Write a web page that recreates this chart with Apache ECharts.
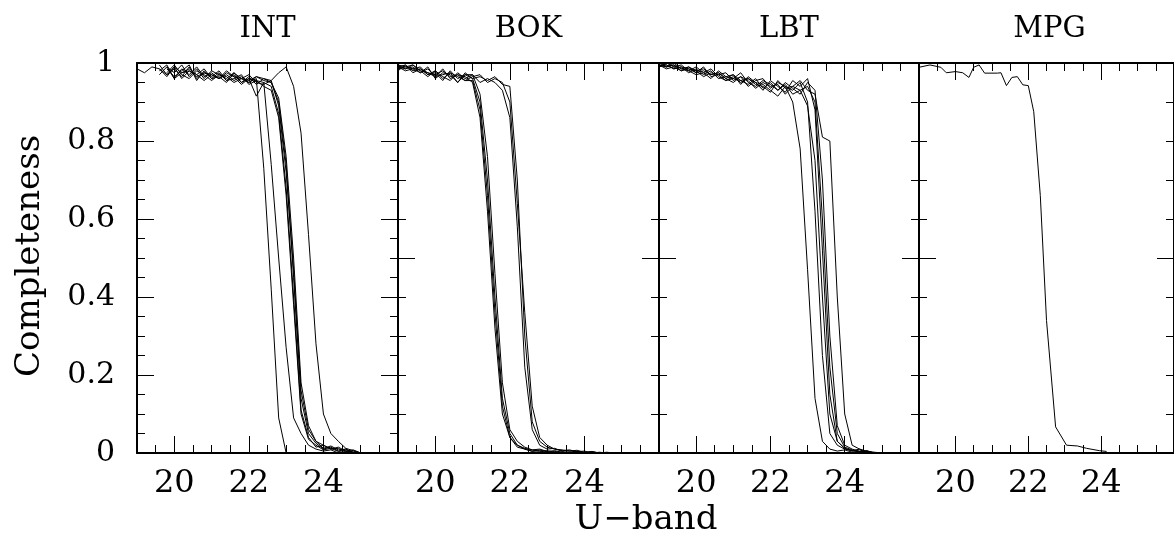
<!DOCTYPE html>
<html>
<head>
<meta charset="utf-8">
<script src="https://cdn.jsdelivr.net/npm/echarts@6/dist/echarts.min.js"></script>
<style>
html, body { margin: 0; background: #fff; }
#chart { width: 1174px; height: 540px; }
</style>
</head>
<body>
<div id="chart"></div>
<script>
// panel names and the U magnitude grid the INT/BOK/LBT runs were sampled on
var panels = ['INT', 'BOK', 'LBT', 'MPG'];
var mags = [19.0, 19.2, 19.4, 19.6, 19.8, 20.0, 20.2, 20.4, 20.6, 20.8, 21.0, 21.2, 21.4, 21.6, 21.8, 22.0,
	22.2, 22.4, 22.6, 22.8, 23.0, 23.2, 23.4, 23.6, 23.8, 24.0, 24.2, 24.4, 24.6, 24.8, 25.0];
var xMajor = [20, 22, 24];
var xLabels = [20, 22, 24];

var intCurves = [
	[0.985, 0.975, 0.99, 0.985, 0.965, 0.99, 0.975, 0.98, 0.965, 0.975, 0.97, 0.96, 0.975, 0.965, 0.96, 0.955, 0.965, 0.96, 0.955, 0.975, 0.99, 0.94, 0.82, 0.56, 0.28, 0.10, 0.05, 0.03, 0.012, 0.006, 0.0],
	[null, null, null, 0.97, 0.99, 0.96, 0.985, 0.97, 0.99, 0.965, 0.975, 0.96, 0.97, 0.955, 0.965, 0.95, 0.96, 0.73, 0.42, 0.09, 0.0, 0.0, 0.0, null, null, null, null, null, null, null, null],
	[null, null, null, 0.985, 0.97, 0.99, 0.96, 0.98, 0.97, 0.985, 0.96, 0.975, 0.955, 0.97, 0.95, 0.96, 0.915, 0.95, 0.74, 0.50, 0.27, 0.09, 0.05, 0.02, 0.01, 0.005, 0.008, 0.0, 0.003, 0.0, null],
	[null, null, null, null, 0.99, 0.975, 0.995, 0.965, 0.985, 0.96, 0.98, 0.97, 0.96, 0.975, 0.95, 0.965, 0.945, 0.96, 0.95, 0.90, 0.74, 0.45, 0.14, 0.05, 0.025, 0.01, 0.015, 0.005, 0.01, 0.0, null],
	[null, null, null, 0.995, 0.97, 0.985, 0.965, 0.99, 0.96, 0.975, 0.965, 0.98, 0.955, 0.96, 0.97, 0.945, 0.955, 0.95, 0.94, 0.87, 0.68, 0.40, 0.11, 0.04, 0.015, 0.02, 0.01, 0.012, 0.003, 0.005, 0.0],
	[null, null, null, null, 0.975, 0.995, 0.97, 0.96, 0.98, 0.97, 0.955, 0.97, 0.965, 0.95, 0.96, 0.97, 0.95, 0.945, 0.955, 0.89, 0.72, 0.47, 0.16, 0.06, 0.03, 0.012, 0.018, 0.008, 0.01, 0.002, null],
	[null, null, null, 0.98, 0.995, 0.96, 0.975, 0.985, 0.97, 0.955, 0.97, 0.96, 0.98, 0.965, 0.945, 0.96, 0.955, 0.94, 0.93, 0.86, 0.66, 0.38, 0.10, 0.035, 0.02, 0.008, 0.012, 0.004, 0.006, 0.0, null],
	[null, null, null, null, 0.985, 0.965, 0.98, 0.995, 0.955, 0.98, 0.96, 0.965, 0.95, 0.975, 0.96, 0.95, 0.965, 0.955, 0.95, 0.91, 0.76, 0.50, 0.18, 0.07, 0.03, 0.02, 0.01, 0.015, 0.005, 0.008, 0.0]
];

var bokCurves = [
	[0.99, 0.995, 0.98, 0.985, 0.975, 0.97, 0.98, 0.965, 0.97, 0.965, 0.95, 0.86, 0.62, 0.32, 0.10, 0.04, 0.02, 0.01, 0.005, 0.008, 0.003, 0.0, 0.002, 0.0, null, null, null, null, null, null, null],
	[0.995, 0.985, 0.99, 0.975, 0.985, 0.965, 0.97, 0.975, 0.95, 0.97, 0.96, 0.90, 0.70, 0.40, 0.14, 0.05, 0.02, 0.012, 0.008, 0.004, 0.006, 0.002, 0.0, 0.003, 0.0, 0.001, null, null, null, null, null],
	[0.985, 0.99, 0.995, 0.98, 0.965, 0.98, 0.96, 0.975, 0.965, 0.955, 0.955, 0.88, 0.66, 0.36, 0.12, 0.04, 0.015, 0.01, 0.004, 0.006, 0.0, 0.004, 0.001, 0.0, 0.002, 0.0, 0.003, 0.0, null, null, null],
	[0.99, 0.98, 0.985, 0.99, 0.97, 0.975, 0.955, 0.98, 0.96, 0.97, 0.97, 0.92, 0.76, 0.46, 0.18, 0.06, 0.03, 0.015, 0.008, 0.01, 0.004, 0.006, 0.002, 0.0, 0.004, 0.001, 0.0, null, null, null, null],
	[0.995, 0.99, 0.985, 0.975, 0.99, 0.96, 0.975, 0.97, 0.95, 0.975, 0.96, 0.965, 0.955, 0.965, 0.945, 0.94, 0.70, 0.30, 0.08, 0.03, 0.015, 0.01, 0.006, 0.008, 0.003, 0.005, 0.0, 0.002, 0.0, null, null],
	[0.98, 0.995, 0.975, 0.985, 0.97, 0.98, 0.965, 0.955, 0.975, 0.96, 0.97, 0.95, 0.96, 0.95, 0.93, 0.86, 0.58, 0.22, 0.06, 0.02, 0.01, 0.012, 0.004, 0.006, 0.002, 0.0, 0.003, 0.0, null, null, null],
	[0.99, 0.985, 0.995, 0.98, 0.975, 0.965, 0.985, 0.96, 0.97, 0.955, 0.965, 0.97, 0.95, 0.96, 0.95, 0.90, 0.64, 0.36, 0.12, 0.04, 0.02, 0.01, 0.008, 0.005, 0.007, 0.002, 0.004, 0.0, 0.002, 0.0, null]
];

var lbtCurves = [
	[0.995, 0.99, 1.0, 0.985, 0.99, 0.98, 0.985, 0.97, 0.975, 0.96, 0.97, 0.955, 0.96, 0.95, 0.945, 0.93, 0.915, 0.94, 0.90, 0.78, 0.47, 0.14, 0.03, 0.01, 0.005, 0.008, 0.002, 0.004, 0.0, null, null],
	[1.0, 0.99, 0.995, 0.98, 0.985, 0.975, 0.99, 0.965, 0.97, 0.975, 0.955, 0.965, 0.94, 0.955, 0.96, 0.935, 0.95, 0.94, 0.93, 0.95, 0.90, 0.62, 0.25, 0.05, 0.02, 0.01, 0.006, 0.003, 0.005, 0.0, null],
	[0.99, 0.995, 0.985, 0.99, 0.975, 0.985, 0.97, 0.98, 0.96, 0.965, 0.97, 0.945, 0.965, 0.95, 0.93, 0.955, 0.94, 0.925, 0.955, 0.94, 0.96, 0.88, 0.52, 0.15, 0.03, 0.012, 0.005, 0.008, 0.002, 0.0, null],
	[0.995, 0.985, 0.99, 0.995, 0.98, 0.97, 0.975, 0.985, 0.965, 0.955, 0.96, 0.975, 0.95, 0.94, 0.955, 0.945, 0.93, 0.95, 0.935, 0.92, 0.95, 0.93, 0.70, 0.30, 0.07, 0.02, 0.01, 0.004, 0.006, 0.0, null],
	[0.99, 1.0, 0.99, 0.98, 0.99, 0.975, 0.98, 0.97, 0.975, 0.96, 0.95, 0.965, 0.955, 0.935, 0.95, 0.94, 0.945, 0.92, 0.94, 0.955, 0.93, 0.92, 0.81, 0.80, 0.40, 0.10, 0.02, 0.01, 0.004, 0.002, 0.0],
	[1.0, 0.995, 0.985, 0.99, 0.985, 0.98, 0.965, 0.975, 0.97, 0.955, 0.965, 0.95, 0.96, 0.945, 0.94, 0.925, 0.955, 0.935, 0.94, 0.93, 0.94, 0.90, 0.60, 0.22, 0.05, 0.015, 0.008, 0.003, 0.0, null, null],
	[0.995, 0.99, 0.995, 0.985, 0.98, 0.99, 0.975, 0.96, 0.98, 0.965, 0.96, 0.955, 0.945, 0.96, 0.935, 0.95, 0.93, 0.945, 0.92, 0.93, 0.89, 0.75, 0.40, 0.10, 0.03, 0.012, 0.006, 0.01, 0.003, 0.0, null]
];

// MPG has a single run on its own magnitude steps
var mpgMags = [19.0, 19.3, 19.6, 19.75, 20.0, 20.2, 20.37, 20.5, 20.65, 20.8, 21.15, 21.25, 21.4, 21.55, 21.7,
	21.85, 22.0, 22.15, 22.33, 22.5, 22.75, 23.05, 23.35, 23.6, 23.95, 24.15];
var mpgCurve = [0.989, 0.995, 0.989, 0.975, 0.978, 0.975, 0.963, 0.989, 0.995, 0.974, 0.974, 0.975, 0.942, 0.963, 0.965,
	0.944, 0.942, 0.875, 0.66, 0.34, 0.067, 0.02, 0.018, 0.012, 0.006, 0.004];

var font = '"DejaVu Serif", serif';
var gridLeft = [137, 398, 659, 919];
var gridWidth = [261, 261, 260, 261];
var gridTop = 63, gridH = 390;

function pairs(xs, ys) {
	var out = [];
	for (var i = 0; i < xs.length; i++) {
		if (ys[i] != null) out.push([xs[i], ys[i]]);
	}
	return out;
}

var grids = [], xAxes = [], yAxes = [], series = [];
panels.forEach(function (name, p) {
	grids.push({ left: gridLeft[p], top: gridTop, width: gridWidth[p], height: gridH });

	['bottom', 'top'].forEach(function (pos) {
		// minor ticks every 0.5 mag
		xAxes.push({
			gridIndex: p, type: 'value', position: pos, min: 19, max: 26, interval: 0.5,
			axisLine: { show: true, lineStyle: { color: '#000', width: 2 } },
			axisTick: { inside: true, length: 8, lineStyle: { color: '#000', width: 1 } },
			axisLabel: { show: false },
			splitLine: { show: false }
		});
		// long ticks and labels at 20, 22, 24
		xAxes.push({
			gridIndex: p, type: 'value', position: pos, min: 19, max: 26,
			axisLine: { show: false },
			axisTick: { inside: true, length: 17, customValues: xMajor, lineStyle: { color: '#000', width: 1 } },
			axisLabel: {
				show: pos === 'bottom', customValues: xLabels, margin: 15,
				color: '#000', fontFamily: font, fontSize: 32
			},
			splitLine: { show: false }
		});
	});

	['left', 'right'].forEach(function (pos) {
		yAxes.push({
			gridIndex: p, type: 'value', position: pos, min: 0, max: 1,
			interval: p === 0 ? 0.2 : 0.5,
			axisLine: { show: true, lineStyle: { color: '#000', width: 2 } },
			axisTick: { inside: true, length: 17, lineStyle: { color: '#000', width: 1 } },
			minorTick: { show: true, splitNumber: p === 0 ? 4 : 5, length: 8, lineStyle: { color: '#000', width: 1 } },
			axisLabel: {
				show: p === 0 && pos === 'left', margin: 22,
				color: '#000', fontFamily: font, fontSize: 30
			},
			splitLine: { show: false }
		});
	});
});

function addCurves(p, xs, curves) {
	curves.forEach(function (ys) {
		series.push({
			type: 'line', xAxisIndex: p * 4, yAxisIndex: p * 2,
			data: pairs(xs, ys), symbol: 'none', silent: true,
			lineStyle: { color: '#000', width: 1 }
		});
	});
}
addCurves(0, mags, intCurves);
addCurves(1, mags, bokCurves);
addCurves(2, mags, lbtCurves);
addCurves(3, mpgMags, [mpgCurve]);

function label(text, x, y, size, rot) {
	return {
		type: 'text', x: x, y: y, rotation: rot || 0,
		style: {
			text: text, font: size + 'px ' + font, fill: '#000',
			align: 'center', verticalAlign: 'middle', textAlign: 'center', textVerticalAlign: 'middle'
		}
	};
}
var texts = panels.map(function (name, p) {
	return label(name, gridLeft[p] + gridWidth[p] / 2, 29, 29);
});
texts.push(label('U\u2212band', 646, 520, 34));
texts.push(label('Completeness', 30, 256, 34, Math.PI / 2));

var chart = echarts.init(document.getElementById('chart'));
chart.setOption({
	animation: false,
	backgroundColor: '#fff',
	grid: grids,
	xAxis: xAxes,
	yAxis: yAxes,
	series: series,
	graphic: texts
});
</script>
</body>
</html>
